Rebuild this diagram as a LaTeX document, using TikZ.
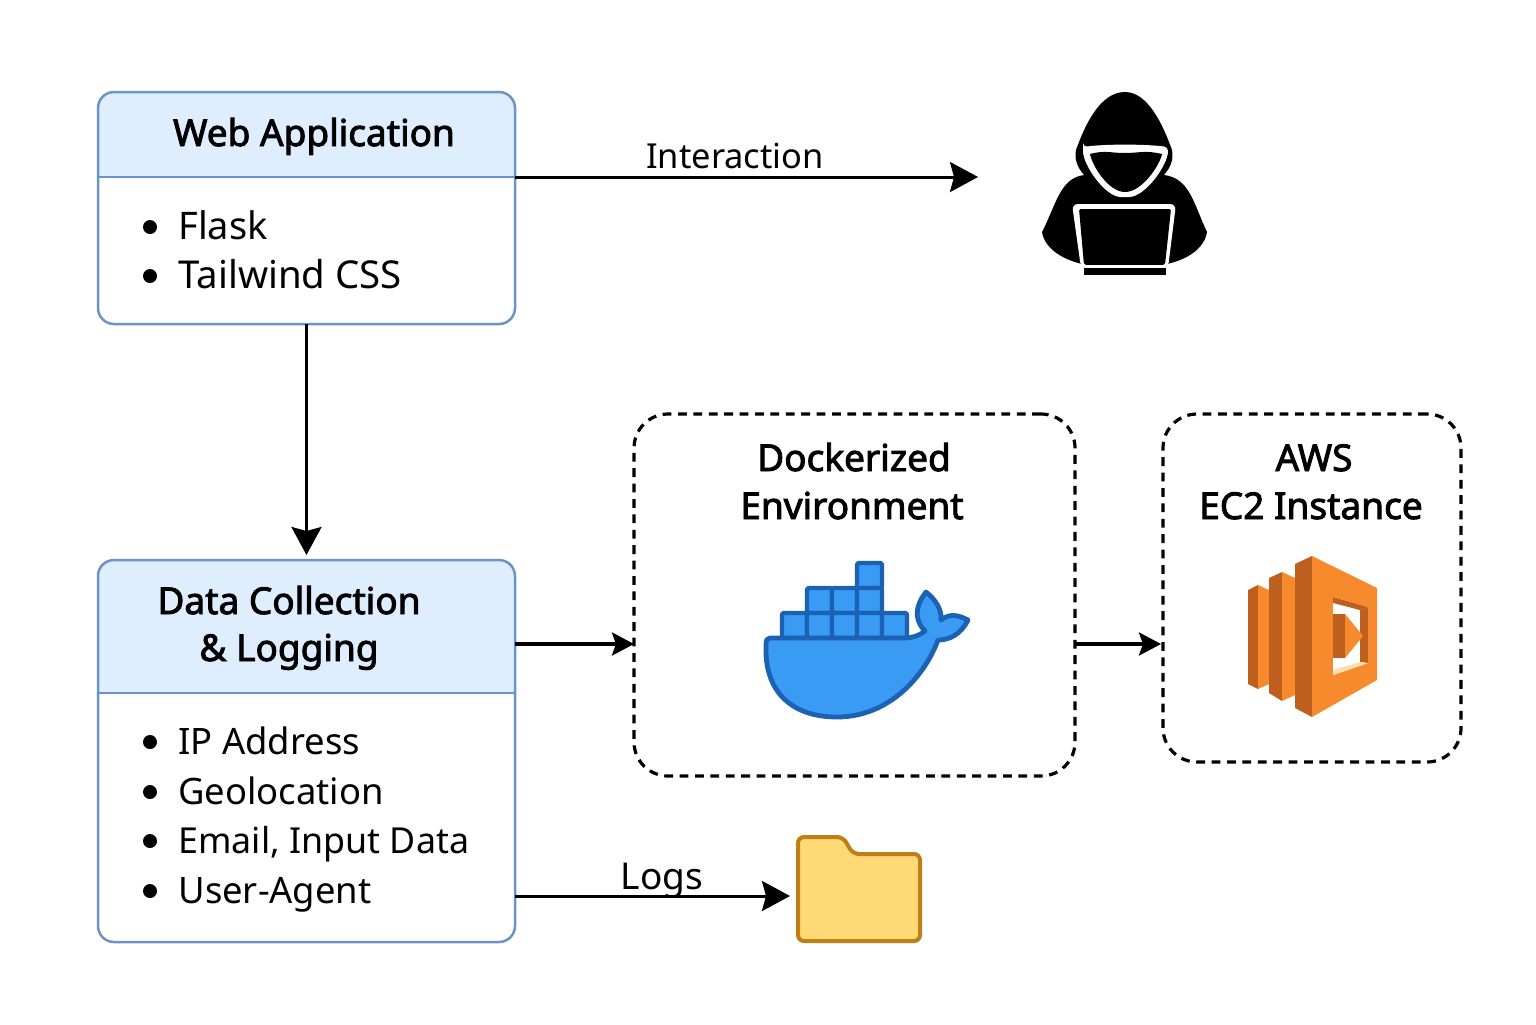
\documentclass[tikz,border=0pt]{standalone}
\usepackage{fontspec}
\usepackage{tikz}
\usetikzlibrary{arrows.meta}
\setmainfont{Noto Sans}
\newcommand{\sized}[2]{{\fontsize{#1}{22}\selectfont #2}}
\newcommand{\heavy}[1]{\special{pdf:code 2 Tr 0.45 w}#1\special{pdf:code 0 Tr}}
\definecolor{panelline}{HTML}{6C93C9}
\definecolor{panelhead}{HTML}{DFEEFF}
\definecolor{dockerfill}{HTML}{3A9BF5}
\definecolor{dockerline}{HTML}{1B62B4}
\definecolor{awsfront}{HTML}{F78A2C}
\definecolor{awsside}{HTML}{BF5F1E}
\definecolor{awscream}{HTML}{FBDFB0}
\definecolor{folderfill}{HTML}{FFD976}
\definecolor{folderline}{HTML}{C07F15}
\tikzset{
  panel/.style={draw=panelline,line width=1.25pt,rounded corners=8pt,inner sep=0pt,outer sep=0pt},
  dashbox/.style={draw=black,line width=1.6pt,rounded corners=17pt,inner sep=0pt,outer sep=0pt,dash pattern=on 4.4pt off 3.3pt},
  title/.style={anchor=base,inner sep=0pt,font=\fontsize{18.5}{22}\selectfont},
  item/.style={anchor=base west,inner sep=0pt,font=\fontsize{18.2}{22}\selectfont},
  flowlabel/.style={anchor=base,inner sep=0pt,font=\fontsize{18.5}{22}\selectfont},
  dot/.style={circle,fill=black,minimum size=7pt,inner sep=0pt},
  bigarrow/.style={line width=1.5pt,-{Stealth[length=14pt,width=15pt,inset=2pt]}},
  smallarrow/.style={line width=1.6pt,-{Stealth[length=11pt,width=11.5pt,inset=2pt]}},
  crate/.style={draw=dockerline,fill=dockerfill,line width=2.2pt,line join=round}
}
\begin{document}
\begin{tikzpicture}[x=0.5pt,y=-0.5pt]
  \useasboundingbox (0,0) rectangle (1536,1024);
  % web application box
  \fill [panelhead,rounded corners=8pt] (98,177) [sharp corners] -- (98,177) [rounded corners=8pt] -- (98,92) -- (515,92) [sharp corners] -- (515,177) -- cycle;
  \node (webbox) [panel,minimum width=208.5pt,minimum height=116pt] at (306.5,208) {};
  \coordinate (webleft) at (98,177);
  \coordinate (webright) at (515,177);
  \draw [panelline,line width=1pt] (webleft) -- (webright);
  \node (webtitle) [title] at (314,146) {\heavy{Web Application}};
  \foreach \name/\y/\txt in {flask/239/\sized{19}{Flask},tailwind/288/\sized{19.2}{Tailwind CSS}} {
    \node (\name dot) [dot] at (150,\y-12) {};
    \node (\name) [item] at (178,\y) {\txt};
  }
  % data collection box
  \fill [panelhead,rounded corners=8pt] (98,693) [sharp corners] -- (98,693) [rounded corners=8pt] -- (98,560) -- (515,560) [sharp corners] -- (515,693) -- cycle;
  \node (databox) [panel,minimum width=208.5pt,minimum height=191pt] at (306.5,751) {};
  \coordinate (dataleft) at (98,693);
  \coordinate (dataright) at (515,693);
  \draw [panelline,line width=1pt] (dataleft) -- (dataright);
  \node (datatitle) [title] at (289,614) {\heavy{Data Collection}};
  \node (datatitleb) [title] at (289,661) {\heavy{\& Logging}};
  \foreach \name/\y/\txt in {ip/754/IP Address,geo/804/Geolocation,email/853/\sized{17.9}{Email, Input Data},agent/903/User-Agent} {
    \node (\name dot) [dot] at (150,\y-12) {};
    \node (\name) [item] at (178,\y) {\txt};
  }
  % dashed boxes
  \node (dockerbox) [dashbox,minimum width=220.5pt,minimum height=181pt] at (854.5,595) {};
  \node (dockertitle) [title] at (854,471) {\heavy{Dockerized}};
  \node (dockertitleb) [title] at (852,519) {\heavy{Environment}};
  \node (awsbox) [dashbox,minimum width=149pt,minimum height=174pt] at (1312,588) {};
  \node (awstitle) [title] at (1314,471) {\heavy{AWS}};
  \node (awstitleb) [title] at (1311,519) {\heavy{EC2 Instance}};
  % hacker
  \fill [black] (1125,92) .. controls (1100,92) and (1085,125) .. (1076,150)
    .. controls (1074,160) and (1078,168) .. (1084,175)
    .. controls (1060,178) and (1056,205) .. (1042,232)
    .. controls (1045,250) and (1065,260) .. (1082,264) -- (1167,264)
    .. controls (1185,260) and (1204,250) .. (1207,232)
    .. controls (1194,205) and (1190,178) .. (1164,175)
    .. controls (1170,168) and (1174,160) .. (1172,150)
    .. controls (1163,125) and (1148,92) .. (1125,92) -- cycle;
  \fill [white,rounded corners=2pt] (1083,147) .. controls (1105,144) and (1145,144) .. (1168,147)
    .. controls (1168,165) and (1145,197) .. (1125,197) .. controls (1105,197) and (1083,165) .. (1083,147) -- cycle;
  \fill [black] (1090,154) .. controls (1105,150) and (1110,153) .. (1125,153) .. controls (1140,153) and (1145,150) .. (1162,154)
    .. controls (1160,165) and (1142,192) .. (1125,192) .. controls (1108,192) and (1092,165) .. (1090,154) -- cycle;
  \fill [white,rounded corners=3pt] (1072,204) -- (1176,204) -- (1168,268) -- (1081,268) -- cycle;
  \fill [black,rounded corners=1pt] (1079,209) -- (1171,209) -- (1165,265) -- (1084,265) -- cycle;
  \fill [white] (1080,265) rectangle (1170,268);
  \fill [black] (1084,268) rectangle (1166,275);
  % docker whale
  \foreach \cx/\cy in {857/563,807/588,832/588,857/588,782/613,807/613,832/613,857/613,882/613} {
    \draw [crate,rounded corners=1pt] (\cx,\cy) rectangle ++(25,25);
  }
  \draw [crate,line width=2.4pt] (770,638) -- (905,638)
    .. controls (913,638) and (920,635) .. (925,631)
    .. controls (917,623) and (912,610) .. (926,592)
    .. controls (936,600) and (942,610) .. (941,620)
    .. controls (950,613) and (958,615) .. (968,620)
    .. controls (961,634) and (950,640) .. (938,640)
    .. controls (925,675) and (890,717) .. (837,717)
    .. controls (792,717) and (764,692) .. (766,645)
    .. controls (766,640) and (767,638) .. (770,638) -- cycle;
  % aws icon
  \fill [awsside] (1248,590) -- (1258,585) -- (1258,689) -- (1248,684) -- cycle;
  \fill [awsfront] (1258,585) -- (1269,590) -- (1269,684) -- (1258,689) -- cycle;
  \fill [awsside] (1269,578) -- (1282,572) -- (1282,701) -- (1269,693) -- cycle;
  \fill [awsfront] (1282,572) -- (1295,578) -- (1295,695) -- (1282,701) -- cycle;
  \fill [awsside] (1295,564) -- (1312,556) -- (1312,717) -- (1295,708) -- cycle;
  \fill [awsfront] (1312,556) -- (1377,588) -- (1377,680) -- (1312,717) -- cycle;
  \fill [white] (1333,597) -- (1368,607) -- (1368,663) -- (1333,675) -- cycle;
  \fill [awsside] (1333,597) -- (1368,607) -- (1360,610) -- (1333,603) -- cycle;
  \fill [awsside] (1368,607) -- (1368,663) -- (1360,662) -- (1360,610) -- cycle;
  \fill [awscream] (1333,675) -- (1368,663) -- (1360,662) -- (1333,670) -- cycle;
  \fill [awsside] (1333,614) -- (1345,614) -- (1345,658) -- (1333,658) -- cycle;
  \fill [awsfront] (1345,614) -- (1363,636) -- (1345,658) -- cycle;
  % folder
  \draw [folderline,fill=folderfill,line width=2pt,rounded corners=3pt] (798,941) -- (798,837) -- (843,837) -- (853,854) -- (920,854) -- (920,941) -- cycle;
  % connectors
  \coordinate (hackerin) at (978,177);
  \draw [bigarrow] (webright) -- (hackerin);
  \node (interaction) [flowlabel] at (735,168) {\sized{17.2}{Interaction}};
  \draw [bigarrow,shorten >=2.5pt] (webbox.south) -- (databox.north);
  \coordinate (dataout) at (515,644);
  \coordinate (dockerin) at (dockerbox.west |- dataout);
  \draw [smallarrow] (dataout) -- (dockerin);
  \coordinate (dockerout) at (dockerbox.east |- dataout);
  \coordinate (awsin) at (awsbox.west |- dataout);
  \draw [smallarrow,shorten >=1pt] (dockerout) -- (awsin);
  \coordinate (logsout) at (515,896);
  \coordinate (folderin) at (790,896);
  \draw [bigarrow] (logsout) -- (folderin);
  \node (logs) [flowlabel] at (662,889) {Logs};
\end{tikzpicture}
\end{document}
